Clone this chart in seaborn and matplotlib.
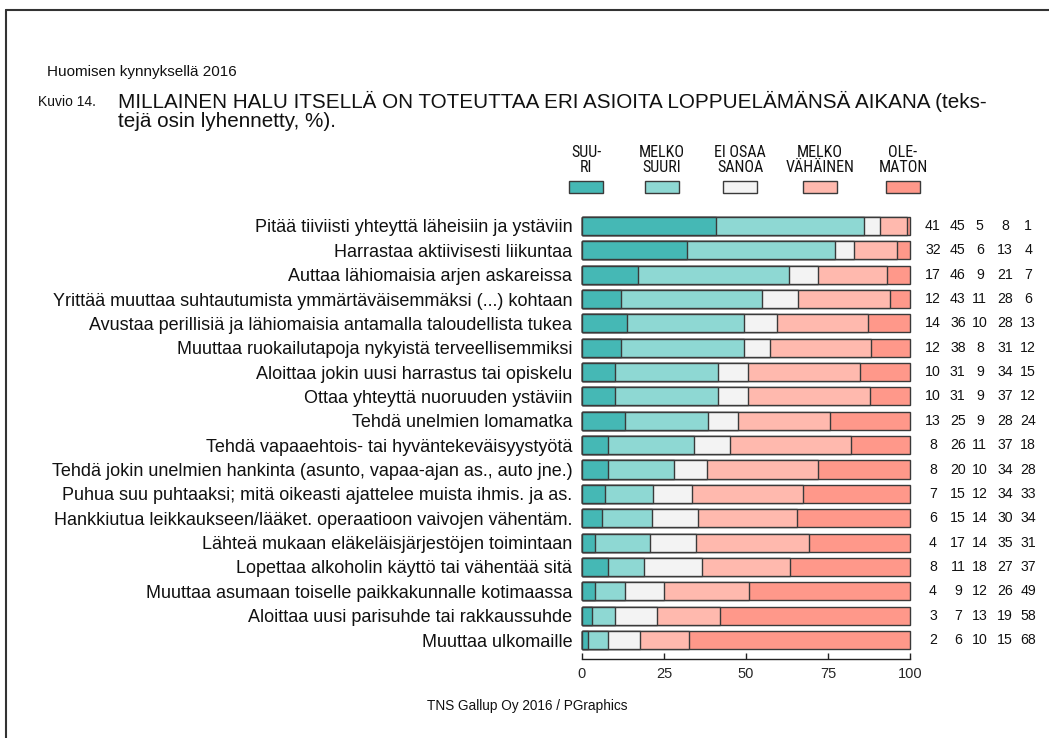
import numpy as np
import pandas as pd
import matplotlib
matplotlib.use("Agg")
import matplotlib.pyplot as plt
from matplotlib.patches import Rectangle
from matplotlib.lines import Line2D
from matplotlib import font_manager as fm
import seaborn as sns

sns.set_theme(style="white")
plt.rcParams['font.family'] = ['Liberation Sans', 'DejaVu Sans']

categories = [
    "Pitää tiiviisti yhteyttä läheisiin ja ystäviin",
    "Harrastaa aktiivisesti liikuntaa",
    "Auttaa lähiomaisia arjen askareissa",
    "Yrittää muuttaa suhtautumista ymmärtäväisemmäksi (...) kohtaan",
    "Avustaa perillisiä ja lähiomaisia antamalla taloudellista tukea",
    "Muuttaa ruokailutapoja nykyistä terveellisemmiksi",
    "Aloittaa jokin uusi harrastus tai opiskelu",
    "Ottaa yhteyttä nuoruuden ystäviin",
    "Tehdä unelmien lomamatka",
    "Tehdä vapaaehtois- tai hyväntekeväisyystyötä",
    "Tehdä jokin unelmien hankinta (asunto, vapaa-ajan as., auto jne.)",
    "Puhua suu puhtaaksi; mitä oikeasti ajattelee muista ihmis. ja as.",
    "Hankkiutua leikkaukseen/lääket. operaatioon vaivojen vähentäm.",
    "Lähteä mukaan eläkeläisjärjestöjen toimintaan",
    "Lopettaa alkoholin käyttö tai vähentää sitä",
    "Muuttaa asumaan toiselle paikkakunnalle kotimaassa",
    "Aloittaa uusi parisuhde tai rakkaussuhde",
    "Muuttaa ulkomaille",
]
suuri =          [41, 32, 17, 12, 14, 12, 10, 10, 13,  8,  8,  7,  6,  4,  8,  4,  3,  2]
melko_suuri =    [45, 45, 46, 43, 36, 38, 31, 31, 25, 26, 20, 15, 15, 17, 11,  9,  7,  6]
ei_osaa =        [ 5,  6,  9, 11, 10,  8,  9,  9,  9, 11, 10, 12, 14, 14, 18, 12, 13, 10]
melko_vahainen = [ 8, 13, 21, 28, 28, 31, 34, 37, 28, 37, 34, 34, 30, 35, 27, 26, 19, 15]
olematon =       [ 1,  4,  7,  6, 13, 12, 15, 12, 24, 18, 28, 33, 34, 31, 37, 49, 58, 68]

legend_labels = ["SUU-\nRI", "MELKO\nSUURI", "EI OSAA\nSANOA", "MELKO\nVÄHÄINEN", "OLE-\nMATON"]
x_ticks = [0, 25, 50, 75, 100]

series = [suuri, melko_suuri, ei_osaa, melko_vahainen, olematon]
colors = ["#45B8B5", "#8ED8D3", "#F3F3F3", "#FFB9AE", "#FF988A"]
edge = "#3a3a3a"


def narrow_font():
    prefs = ["Liberation Sans Narrow", "Roboto Condensed", "Open Sans Condensed",
             "Noto Sans Condensed", "DejaVu Sans Condensed"]
    fonts = fm.fontManager.ttflist
    for name in prefs:
        for f in fonts:
            if f.name == name and f.style == "normal" and f.weight in (400, "normal", "regular"):
                return fm.FontProperties(fname=f.fname)
    for f in fonts:
        fn = f.fname.lower()
        if ("condensed" in fn or "narrow" in fn) and "bold" not in fn and "oblique" not in fn \
                and "italic" not in fn and "light" not in fn:
            return fm.FontProperties(fname=f.fname)
    return fm.FontProperties(family="Liberation Sans")


vals = np.array(series, dtype=float)  # 5 x 18
totals = vals.sum(axis=0)
cum = np.cumsum(vals, axis=0) / totals * 100.0

df = pd.DataFrame({"cat": categories})
for k in range(5):
    df[f"c{k}"] = cum[k]

W, H = 1049, 738
fig = plt.figure(figsize=(W / 100, H / 100), dpi=100)
ax_left, ax_right = 582 / W, 910 / W
ax_bottom, ax_top = (H - 659) / H, (H - 214) / H
ax = fig.add_axes([ax_left, ax_bottom, ax_right - ax_left, ax_top - ax_bottom])

for k in range(4, -1, -1):
    sns.barplot(data=df, x=f"c{k}", y="cat", orient="h", color=colors[k],
                saturation=1, width=0.74, edgecolor=edge, linewidth=1.0, ax=ax)

ax.set_xlim(0, 100)
ax.set_ylim(17.78, -0.49)
ax.set_xlabel("")
ax.set_ylabel("")
ax.set_xticks(x_ticks)
ax.set_xticklabels([str(t) for t in x_ticks], fontsize=10.5)
for s in ["top", "right", "left"]:
    ax.spines[s].set_visible(False)
ax.spines["bottom"].set_color("#222222")
ax.spines["bottom"].set_linewidth(1.0)
ax.tick_params(axis="x", direction="in", length=4, width=1.0, color="#222222", pad=6, bottom=True)
ax.tick_params(axis="y", length=0, pad=7, labelsize=13.0)
for lab in ax.get_yticklabels():
    lab.set_color("#111111")
for p in ax.patches:
    p.set_clip_on(False)

# numbers column
num_x = [107.0, 114.6, 121.3, 129.0, 136.0]
for i in range(len(categories)):
    for k in range(5):
        ax.text(num_x[k], i, str(series[k][i]), ha="center", va="center",
                fontsize=10.2, color="#111111", clip_on=False)

# legend
nf = narrow_font()
nf.set_size(11.5)
leg_x = [586, 662, 740, 820, 903]
for k in range(5):
    cx = leg_x[k] / W
    fig.patches.append(Rectangle((cx - 17 / W, (H - 193) / H), 34 / W, 12 / H,
                                 transform=fig.transFigure, facecolor=colors[k],
                                 edgecolor=edge, linewidth=1.0))
    fig.text(cx, (H - 160) / H, legend_labels[k], ha="center", va="center",
             fontproperties=nf, linespacing=1.05, color="#111111")

# titles
fig.text(47 / W, (H - 72) / H, "Huomisen kynnyksellä 2016", fontsize=11,
         ha="left", va="center", color="#111111")
fig.text(38 / W, (H - 102) / H, "Kuvio 14.", fontsize=10, ha="left", va="center", color="#111111")
fig.text(118 / W, (H - 111) / H,
         "MILLAINEN HALU ITSELLÄ ON TOTEUTTAA ERI ASIOITA LOPPUELÄMÄNSÄ AIKANA (teks-\ntejä osin lyhennetty, %).",
         fontsize=14.9, ha="left", va="center", linespacing=0.95, color="#111111")
fig.text(527 / W, (H - 706) / H, "TNS Gallup Oy 2016 / PGraphics", fontsize=9.8,
         ha="center", va="center", color="#111111")

# frame
fig.add_artist(Line2D([6 / W, 1.0], [(H - 9.5) / H] * 2, transform=fig.transFigure,
                      color="#333333", linewidth=1.5))
fig.add_artist(Line2D([6 / W] * 2, [(H - 9.5) / H, 0.0], transform=fig.transFigure,
                      color="#333333", linewidth=1.5))

fig.savefig("out.png", dpi=100)
